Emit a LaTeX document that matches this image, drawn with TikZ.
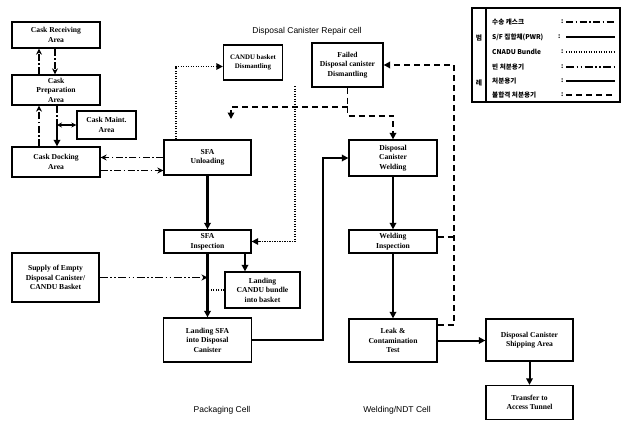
\documentclass[tikz,border=0pt]{standalone}
\usepackage{fontspec}
\setmainfont{Liberation Serif}
\newfontfamily\krfont{Noto Sans CJK KR}
\newfontfamily\lblfont{Liberation Sans}
\usetikzlibrary{arrows.meta}
\begin{document}
\begin{tikzpicture}[x=1pt,y=-1pt,
  box/.style={draw, line width=1.3pt, align=center, inner sep=0.5pt,
    font=\bfseries\fontsize{7.6}{9.6}\selectfont},
  tri/.style={-{Triangle[length=6.5pt,width=6.5pt]}},
  stl/.style={-{Stealth[length=6pt,width=6pt]}},
  cask/.style={line width=1.4pt, dash pattern=on 7pt off 2.5pt on 1.5pt off 2.5pt},
  emptycan/.style={line width=1.4pt, dash pattern=on 8pt off 2.5pt on 1.5pt off 2.5pt on 1.5pt off 2.5pt},
  candu/.style={line width=1.5pt, dash pattern=on 1.2pt off 1.3pt},
  rej/.style={line width=1.8pt, dash pattern=on 6pt off 4pt},
  sfa/.style={line width=2.2pt},
  can/.style={line width=2pt},
  cell/.style={font=\lblfont\fontsize{8.5}{10}\selectfont},
  legtxt/.style={anchor=west, inner sep=0pt, font=\krfont\bfseries\fontsize{6.6}{7}\selectfont}
]
\useasboundingbox (0,0) rectangle (621,421);
\fill[white] (0,0) rectangle (621,421);

% boxes
\node[box, minimum width=88pt, minimum height=26pt] (recv) at (56,35) {Cask Receiving\\Area};
\node[box, minimum width=88pt, minimum height=30pt] (prep) at (56,90) {Cask\\Preparation\\Area};
\node[box, minimum width=59pt, minimum height=28pt] (maint) at (106.5,125) {Cask Maint.\\Area};
\node[box, minimum width=88pt, minimum height=30pt] (dock) at (56,162) {Cask Docking\\Area};
\node[box, minimum width=87pt, minimum height=35pt] (unload) at (207.5,157.5) {SFA\\Unloading};
\node[box, minimum width=87pt, minimum height=23pt] (insp) at (207.5,241.5) {SFA\\Inspection};
\node[box, minimum width=75pt, minimum height=36pt] (lcandu) at (262.5,290) {Landing\\CANDU bundle\\into basket};
\node[box, minimum width=88pt, minimum height=44pt] (lsfa) at (207.5,340) {Landing SFA\\into Disposal\\Canister};
\node[box, minimum width=87pt, minimum height=49pt] (supply) at (55.5,277.5) {Supply of Empty\\Disposal Canister/\\CANDU Basket};
\node[box, minimum width=59pt, minimum height=35pt, font=\bfseries\fontsize{6.9}{9.6}\selectfont] (cbd) at (253,62.5) {CANDU basket\\Dismantling};
\node[box, minimum width=71pt, minimum height=44pt] (fail) at (347.5,65) {Failed\\Disposal canister\\Dismantling};
\node[box, minimum width=88pt, minimum height=36pt] (weld) at (393,158) {Disposal\\Canister\\Welding};
\node[box, minimum width=88pt, minimum height=23pt] (winsp) at (393,241.5) {Welding\\Inspection};
\node[box, minimum width=88pt, minimum height=43pt] (leak) at (393,340.5) {Leak \&\\Contamination\\Test};
\node[box, minimum width=87pt, minimum height=42pt] (ship) at (529.5,340) {Disposal Canister\\Shipping Area};
\node[box, minimum width=87pt, minimum height=34pt] (tunnel) at (529.5,402.5) {Transfer to\\Access Tunnel};

% cell labels
\node[cell] (lrep) at (307,31) {Disposal Canister Repair cell};
\node[cell] (lpack) at (222,410) {Packaging Cell};
\node[cell] (lweld) at (397,410) {Welding/NDT Cell};

% cask lines
\draw[cask,stl] ([xshift=-17pt]prep.north) -- ([xshift=-17pt]recv.south);
\draw[cask,stl] ([xshift=-1pt]recv.south) -- ([xshift=-1pt]prep.north);
\draw[cask,stl] ([xshift=-17pt]dock.north) -- ([xshift=-17pt]prep.south);
\coordinate (j1) at (57,125);
\draw[cask] (prep.south -| j1) -- (j1);
\draw[can,tri] (j1) -- (dock.north -| j1);
\draw[line width=1.4pt,{Stealth[length=5pt,width=5pt]}-{Stealth[length=5pt,width=5pt]}] (j1) -- (maint.west);
\draw[cask,stl] (unload.west) -- (dock.east |- unload.west);
\coordinate (u2) at ([yshift=-13pt]unload.west);
\draw[cask,stl] (dock.east |- u2) -- (u2);

% SFA main flow
\draw[sfa,tri] (unload.south) -- (insp.north);
\draw[sfa,tri] (insp.south) -- (lsfa.north);
\coordinate (s1) at (insp.south |- supply.east);
\draw[emptycan,stl] (supply.east) -- (s1);
\draw[candu] (lcandu.west) -- (lcandu.west -| insp.south);
\draw[can,tri] ([xshift=37.5pt]insp.south) -- ([xshift=-17.5pt]lcandu.north);

% CANDU dotted lines
\draw[candu,tri] ([xshift=-31.5pt]unload.north) |- ([yshift=-4pt]cbd.west);
\coordinate (c1) at (295,86);
\draw[candu,tri] (c1) |- (insp.east);

% rejected canister dashed lines
\draw[rej] (fail.south) -- ++(0,19) coordinate (d1);
\coordinate (d2) at (231,119);
\draw[rej,tri] (d1) -| (d2);
\draw[rej,tri] (d1) -- ++(0,9) -| (weld.north);
\draw[rej,tri] ([yshift=15.5pt]leak.east) -- ++(16,0) |- (fail.east);
\draw[rej] ([yshift=4.5pt]winsp.east) -- ++(16,0);

% canister flow
\draw[can,tri] (lsfa.east) -- ++(71,0) |- (weld.west);
\draw[can,tri] (weld.south) -- (winsp.north);
\draw[can,tri] (winsp.south) -- (leak.north);
\draw[can,tri] (leak.east) -- (ship.west |- leak.east);
\draw[can,tri] (ship.south) -- (tunnel.north);

% legend
\draw[line width=1.2pt] (472,8) rectangle (620,102);
\draw[line width=1.2pt] (486,8) -- (486,102);
\node[font=\krfont\bfseries\fontsize{6.8}{7}\selectfont] (lg1) at (479,38) {범};
\node[font=\krfont\bfseries\fontsize{6.8}{7}\selectfont] (lg2) at (479,83) {례};
\node[legtxt] (t1) at (492,22) {수송 캐스크};
\node[legtxt] (t2) at (492,37) {S/F 집합체(PWR)};
\node[legtxt] (t3) at (492,52) {CNADU Bundle};
\node[legtxt] (t4) at (492,67) {빈 처분용기};
\node[legtxt] (t5) at (492,81) {처분용기};
\node[legtxt] (t6) at (492,95) {불합격 처분용기};
\foreach \yy in {22,52,67,81,95} \node[legtxt] at (561,\yy) {:};
\node[legtxt] at (558,37) {:};
\draw[cask] (566,22) -- (615,22);
\draw[sfa] (566,37) -- (615,37);
\draw[candu] (566,52) -- (615,52);
\draw[emptycan] (566,67) -- (615,67);
\draw[can] (566,81) -- (615,81);
\draw[rej] (566,95) -- (615,95);
\end{tikzpicture}
\end{document}
